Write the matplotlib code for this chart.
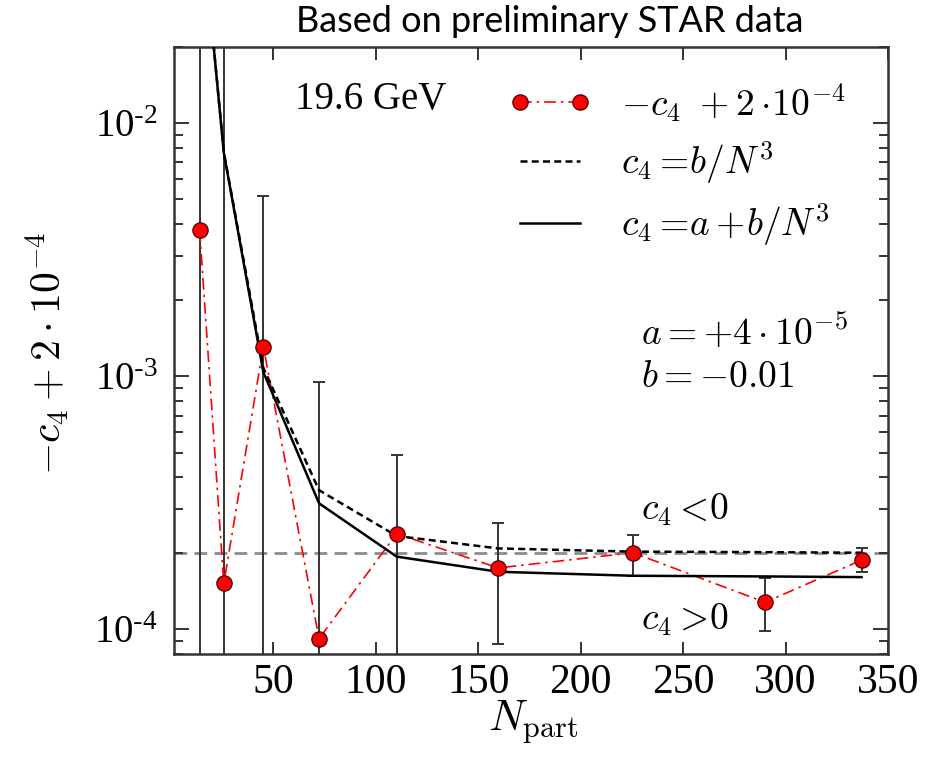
import numpy as np
import matplotlib
matplotlib.use("Agg")
import matplotlib.pyplot as plt
from matplotlib.ticker import FixedLocator, LogLocator, NullFormatter
from matplotlib.lines import Line2D

plt.rcParams['font.family'] = ['Liberation Serif', 'DejaVu Serif']
plt.rcParams['mathtext.fontset'] = 'cm'

# Centrality classes (number of participants) and measured -c4 + 2e-4
npart = [14.0, 25.8, 45.1, 72.3, 110.2, 159.8, 225.5, 290.0, 337.1]
value = [3.79e-3, 1.52e-4, 1.31e-3, 9.2e-5, 2.39e-4, 1.75e-4, 2.01e-4, 1.28e-4, 1.88e-4]
# Error bar extent (upper / lower bounds); tiny lower bounds run off the log axis
err_high = [1.0, 1.0, 5.15e-3, 9.5e-4, 4.9e-4, 2.63e-4, 2.37e-4, 1.59e-4, 2.09e-4]
err_low = [1e-6, 1e-6, 1e-6, 1e-6, 1e-6, 8.75e-5, 1.63e-4, 9.85e-5, 1.69e-4]
# Fit curves evaluated at each Npart
fit_b = [7.75e-2, 7.70e-3, 1.08e-3, 3.55e-4, 2.34e-4, 2.09e-4, 2.03e-4, 2.02e-4, 2.01e-4]
fit_ab = [7.71e-2, 7.66e-3, 1.04e-3, 3.15e-4, 1.94e-4, 1.69e-4, 1.63e-4, 1.62e-4, 1.61e-4]
reference_level = 2e-4

xticks = [50, 100, 150, 200, 250, 300, 350]
yticks = [1e-4, 1e-3, 1e-2]
ytick_labels = [r'$\mathregular{10^{\text{-}4}}$', r'$\mathregular{10^{\text{-}3}}$',
                r'$\mathregular{10^{\text{-}2}}$']

W, H = 933, 760
fig = plt.figure(figsize=(W / 100, H / 100), dpi=100)
ax = fig.add_axes([174 / W, 1 - 654 / H, (888 - 174) / W, (654 - 47) / H])

ax.set_yscale('log')
ax.set_xlim(1.5, 350)
ax.set_ylim(8e-5, 2e-2)

edge = '#333333'
ax.axhline(reference_level, color='#8c8c8c', lw=2.0, ls=(0, (4.6, 2.6)), zorder=1)

yv = np.array(value)
yerr = [yv - np.array(err_low), np.array(err_high) - yv]
ax.errorbar(npart, value, yerr=yerr, fmt='none', ecolor=edge, elinewidth=1.4,
            capsize=4.5, capthick=1.4, zorder=2)

red_ls = (0, (7, 3, 1.5, 3))
dash_ls = (0, (2.8, 1.7))
ax.plot(npart, value, color='red', lw=1.2, ls=red_ls, zorder=3)
ax.plot(npart, fit_b, color='black', lw=1.8, ls=dash_ls, zorder=4)
ax.plot(npart, fit_ab, color='black', lw=1.8, zorder=4)
ax.plot(npart, value, ls='none', marker='o', ms=11, mfc='red', mec='#4a0000',
        mew=0.9, zorder=5)

for s in ax.spines.values():
    s.set_color(edge)
    s.set_linewidth(1.8)

ax.xaxis.set_major_locator(FixedLocator(xticks))
ax.set_xticklabels([str(t) for t in xticks])
ax.yaxis.set_major_locator(FixedLocator(yticks))
ax.set_yticklabels(ytick_labels)
ax.yaxis.set_minor_locator(LogLocator(base=10, subs=np.arange(2, 10)))
ax.yaxis.set_minor_formatter(NullFormatter())

ax.tick_params(axis='both', which='both', direction='in', top=True, right=True,
               color=edge, width=1.4)
ax.tick_params(axis='x', which='major', length=9, labelsize=30, pad=7)
ax.tick_params(axis='y', which='major', length=11, labelsize=28, pad=12)
ax.tick_params(axis='y', which='minor', length=6.5)

# Axis titles
fig.text(47 / W, 1 - 353 / H, r'$-c_4+2\cdot10^{-4}$', rotation=90, ha='center',
         va='center', fontsize=30)
fig.text(533 / W, 1 - 722 / H, r'$N_{\rm part}$', ha='center', va='center', fontsize=31)

fig.text(550 / W, 1 - 22 / H, 'Based on preliminary STAR data', ha='center',
         va='center', fontsize=26, family='Lato')

# Annotations inside the frame
fig.text(295 / W, 1 - 100 / H, '19.6 GeV', ha='left', va='center', fontsize=28)
fig.text(641 / W, 1 - 332 / H, r'$a=+4\cdot10^{-5}$', ha='left', va='center', fontsize=27)
fig.text(641 / W, 1 - 378 / H, r'$b=-0.01$', ha='left', va='center', fontsize=27)
fig.text(641 / W, 1 - 510 / H, r'$c_4<\!0$', ha='left', va='center', fontsize=27)
fig.text(641 / W, 1 - 620 / H, r'$c_4>\!0$', ha='left', va='center', fontsize=27)

handles = [
    Line2D([], [], color='red', lw=1.2, ls=red_ls, marker='o', ms=11,
           mfc='red', mec='#4a0000', mew=0.9),
    Line2D([], [], color='black', lw=1.8, ls=dash_ls),
    Line2D([], [], color='black', lw=1.8),
]
labels = [r'$-c_4\ +2\cdot\!10^{-4}$', r'$c_4=\!b/N^3$', r'$c_4=\!a+\!b/N^3$']
ax.legend(handles, labels, loc='upper left', bbox_to_anchor=(490 / W, 1 - 62 / H),
          bbox_transform=fig.transFigure, frameon=False, numpoints=2, fontsize=27,
          handlelength=2.2, handletextpad=0.8, labelspacing=0.42, borderpad=0)

fig.savefig('out.png', dpi=100)
